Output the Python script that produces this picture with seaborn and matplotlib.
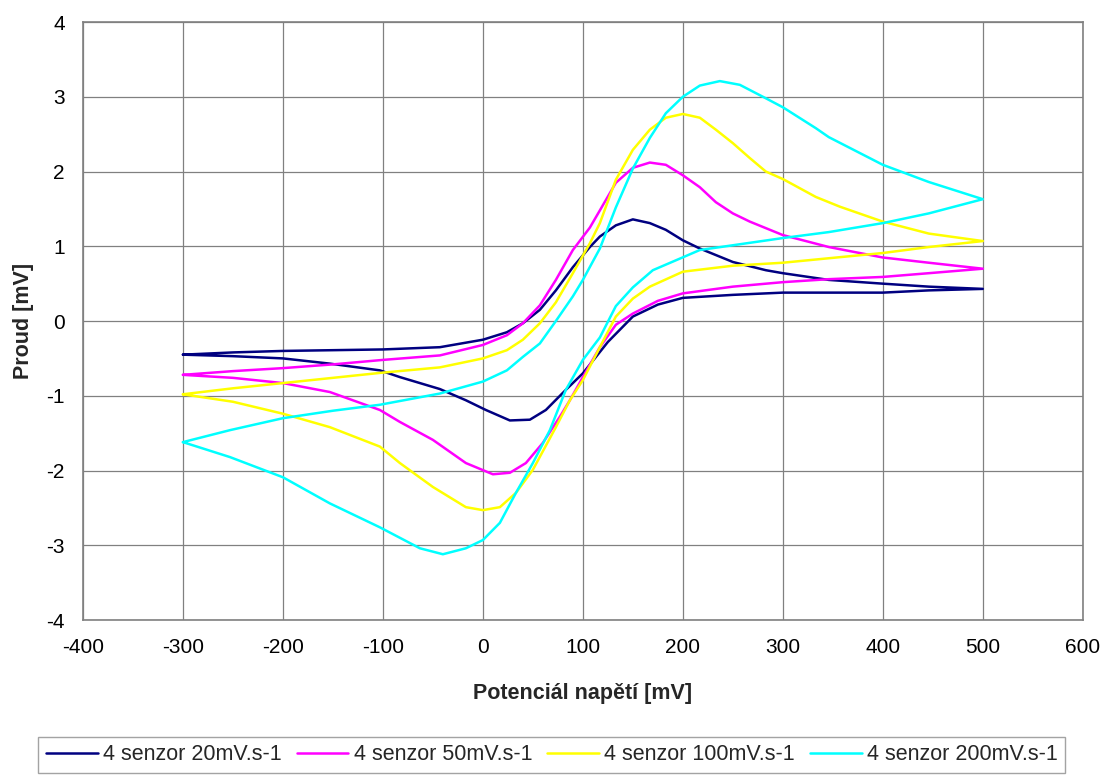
import numpy as np
import pandas as pd
import matplotlib
matplotlib.use("Agg")
import matplotlib.pyplot as plt
import seaborn as sns

# --- data (forward scan -300 -> 500, then back to -300) ---
x20 = [-300, -250, -200, -150, -100, -43, 0, 24, 40, 57, 73, 90, 107, 117, 133, 150, 167, 183, 200, 217, 250, 283, 300, 346, 400, 446, 500,
       446, 400, 300, 250, 200, 175, 150, 125, 100, 83, 63, 47, 27, 3, -17, -43, -83, -103, -153, -200, -250, -300]
y20 = [-0.45, -0.42, -0.40, -0.39, -0.38, -0.35, -0.25, -0.15, -0.03, 0.15, 0.41, 0.72, 0.99, 1.13, 1.28, 1.36, 1.31, 1.22, 1.08, 0.97, 0.79, 0.68, 0.64, 0.55, 0.5, 0.46, 0.43,
       0.41, 0.38, 0.38, 0.35, 0.31, 0.22, 0.06, -0.28, -0.7, -0.92, -1.19, -1.32, -1.33, -1.19, -1.06, -0.91, -0.75, -0.66, -0.57, -0.5, -0.47, -0.45]

x50 = [-300, -250, -200, -150, -100, -43, 0, 24, 40, 57, 73, 90, 107, 117, 133, 150, 167, 183, 200, 217, 233, 250, 267, 300, 346, 400, 446, 500,
       446, 400, 346, 300, 250, 200, 175, 150, 133, 117, 100, 87, 77, 60, 43, 27, 10, -17, -50, -83, -103, -153, -200, -250, -300]
y50 = [-0.72, -0.67, -0.63, -0.58, -0.52, -0.46, -0.32, -0.19, -0.03, 0.21, 0.55, 0.95, 1.25, 1.48, 1.85, 2.05, 2.12, 2.09, 1.95, 1.79, 1.59, 1.44, 1.33, 1.15, 0.99, 0.85, 0.78, 0.7,
       0.64, 0.59, 0.56, 0.52, 0.46, 0.37, 0.27, 0.1, -0.05, -0.35, -0.75, -1.06, -1.28, -1.63, -1.9, -2.03, -2.05, -1.9, -1.59, -1.35, -1.19, -0.95, -0.83, -0.76, -0.72]

x100 = [-300, -250, -200, -150, -100, -43, 0, 24, 40, 57, 73, 90, 107, 117, 133, 150, 167, 183, 200, 217, 233, 250, 267, 283, 300, 333, 357, 400, 446, 500,
        446, 400, 346, 300, 250, 200, 167, 150, 133, 117, 100, 87, 73, 50, 33, 17, 0, -17, -50, -83, -103, -153, -200, -250, -300]
y100 = [-0.98, -0.9, -0.83, -0.76, -0.69, -0.62, -0.5, -0.39, -0.25, -0.03, 0.25, 0.64, 1.04, 1.31, 1.89, 2.29, 2.56, 2.72, 2.77, 2.72, 2.56, 2.38, 2.18, 2.0, 1.9, 1.66, 1.53, 1.33, 1.17, 1.07,
        0.99, 0.91, 0.84, 0.78, 0.74, 0.66, 0.46, 0.3, 0.06, -0.35, -0.79, -1.06, -1.42, -1.99, -2.3, -2.49, -2.53, -2.49, -2.22, -1.9, -1.68, -1.42, -1.24, -1.08, -0.98]

x200 = [-300, -253, -200, -150, -103, -43, 0, 24, 40, 57, 73, 90, 100, 117, 133, 150, 167, 183, 200, 217, 237, 257, 283, 300, 333, 346, 400, 446, 500,
        446, 400, 346, 300, 217, 170, 150, 133, 117, 100, 83, 67, 50, 33, 17, 0, -17, -40, -63, -83, -103, -153, -200, -253, -300]
y200 = [-1.62, -1.46, -1.3, -1.2, -1.12, -0.97, -0.81, -0.66, -0.48, -0.3, 0.0, 0.33, 0.55, 0.97, 1.52, 2.04, 2.45, 2.78, 3.0, 3.15, 3.21, 3.16, 2.98, 2.86, 2.58, 2.46, 2.09, 1.86, 1.63,
        1.44, 1.31, 1.19, 1.11, 0.95, 0.68, 0.45, 0.2, -0.22, -0.52, -0.92, -1.46, -1.9, -2.3, -2.7, -2.93, -3.04, -3.12, -3.04, -2.9, -2.76, -2.44, -2.09, -1.82, -1.62]

names = ["4 senzor 20mV.s-1", "4 senzor 50mV.s-1", "4 senzor 100mV.s-1", "4 senzor 200mV.s-1"]
colors = ["#000080", "#FF00FF", "#FFFF00", "#00FFFF"]

frames = []
for name, xs, ys in zip(names, [x20, x50, x100, x200], [y20, y50, y100, y200]):
    frames.append(pd.DataFrame({"napeti": xs, "proud": ys, "serie": name}))
df = pd.concat(frames, ignore_index=True)

sns.set_theme(style="white")
plt.rcParams["font.family"] = ["Liberation Sans", "DejaVu Sans"]
plt.rcParams["axes.unicode_minus"] = False

fig = plt.figure(figsize=(11.06, 7.76), dpi=100)
ax = fig.add_axes([0.075, 0.201, 0.904, 0.7706])

for name, col in zip(names, colors):
    sub = df[df["serie"] == name]
    sns.lineplot(data=sub, x="napeti", y="proud", sort=False, estimator=None,
                 color=col, linewidth=1.8, label=name, ax=ax)

ax.set_xlim(-400, 600)
ax.set_ylim(-4, 4)
ax.set_xticks(np.arange(-400, 601, 100))
ax.set_yticks(np.arange(-4, 5, 1))
ax.grid(True, color="#808080", linewidth=0.9)
for s in ax.spines.values():
    s.set_color("#808080")
    s.set_linewidth(1.2)
ax.tick_params(axis="both", labelsize=15, length=0, colors="black")
ax.tick_params(axis="x", pad=13)
ax.tick_params(axis="y", pad=13)
ax.set_xlabel("Potenciál napětí [mV]", fontsize=15.5, fontweight="bold", labelpad=19)
ax.set_ylabel("Proud [mV]", fontsize=15.5, fontweight="bold", labelpad=9)

leg = ax.legend(loc="upper center", bbox_to_anchor=(0.469, -0.195), ncol=4, fontsize=15.5,
                frameon=True, fancybox=False, edgecolor="#8c8c8c", handlelength=2.4,
                handletextpad=0.25, columnspacing=0.7, borderpad=0.35, borderaxespad=0)
leg.get_frame().set_linewidth(1.0)

fig.savefig("out.png", dpi=100)
